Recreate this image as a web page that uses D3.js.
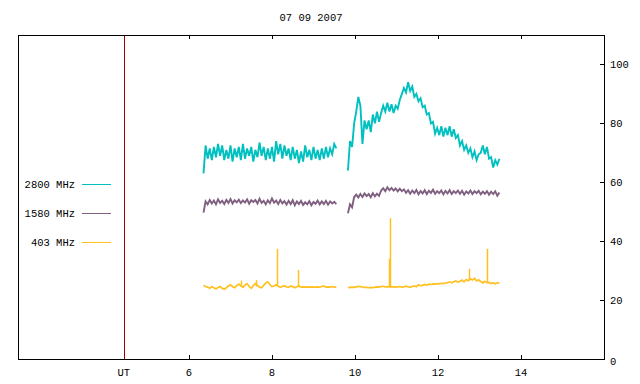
<!DOCTYPE html>
<html><head><meta charset="utf-8">
<script src="https://cdn.jsdelivr.net/npm/d3@7"></script>
<style>body{margin:0;background:#fff}svg{display:block}text{font-family:"Liberation Mono","DejaVu Sans Mono",monospace;font-size:10.5px;fill:#000}</style>
</head><body>
<svg id="c" width="640" height="384"></svg>
<script>
const title = "07 09 2007";
const seriesNames = ["2800 MHz", "1580 MHz", "403 MHz"];
const seriesColors = ["#00c0c0", "#806080", "#ffc020"];
const xTickValues = [6, 8, 10, 12, 14];
const xTickLabels = ["6", "8", "10", "12", "14"];
const utTime = 4.43;
const utLabel = "UT";
const yTickValues = [0, 20, 40, 60, 80, 100];
const step = 0.05;
const seg1Start = 6.35;
const seg2Start = 9.83;

const cyan1 = [63,72.5,68,71.5,67.5,72,68.5,73,69,72.5,
67.5,71,68,72.5,67,71.5,68.5,72,67.5,73,
68,71.5,69,72,67,71,68.5,73.5,69,72,
67.5,71.5,68,72,67,74,69.5,73,68,72.5,
69,71.5,67.5,72,68,71,66.5,70.5,67,72.5,
68.5,71,67.5,72,68,71,67.5,71.5,68,72,
68.5,71.5,69.5,73,71.5];
const cyan2 = [64,74,72,80,84,89,86,73,81,78,
81,77,83,80,84,80.5,83.5,86,84,87,
84,86.5,83.5,86,85,88,90,92,90.5,94,
91,92.5,89,90,87.5,88.5,85.5,86,83,83.5,
80,80.5,76.5,78.5,76,79,75.5,78.5,76,79,
75.5,78,75,76,72.5,74,71,72.5,70,71.5,
68.5,70.5,67.5,69.5,70,72.5,69.5,72,68,68.5,
65,67.5,66,68];
const purple1 = [49.7,53.5,52.5,54,52.8,53.8,52.5,54.2,53,53.7,
52.6,54,53,54.3,52.8,53.9,53.2,54.1,52.9,53.8,
53.1,54.2,52.7,53.9,53.3,54,52.8,54.4,53,53.7,
52.5,53.9,52.9,54.5,53.1,53.8,52.6,54,52.8,53.6,
52.4,53.7,52.6,53.9,52.2,53.5,52.6,53.7,52.3,53.2,
52.5,53.6,52.2,53.3,52.7,53.8,52.5,53.5,52.6,53.7,
52.4,53.5,52.8,53.4,52.6];
const purple2 = [49.5,52.5,51.5,55,
55.8,54.8,56,55,56.2,55.3,56,54.9,56.3,55.2,56.1,55.4,
57.2,58,57,58.3,57.3,58.1,57.2,57.9,56.9,57.8,57,57.6,
56.4,57.3,56.1,57.2,56.3,57.4,55.9,57,56.2,57.3,
56,57.1,56.4,57.5,56.1,57,56.3,57.2,55.9,57.1,
56.2,57.3,56,57,56.3,57.2,56.1,57.1,55.8,56.9,
56.2,57.2,56,57,56.3,57.1,55.9,56.8,56.1,57,
55.8,56.8,56,56.9,55.4,56.5];
const yellow1 = [25,24.6,24.4,24,24.5,24.2,23.8,24.3,24.6,24,
23.7,24.2,24.8,25.2,24.6,24.2,24.9,25.4,24.8,24.3,
25.1,25.6,24.6,24,24.9,25.6,25,24.4,24.2,25,
25.8,26.2,25.2,24.6,24.8,25.2,24.7,24.3,24.6,24.9,
24.5,24.4,24.7,24.6,24.2,24.5,24.8,24.4,24.5,24.4,
24.5,24.4,24.5,24.4,24.4,24.5,24.4,24.6,24.8,24.4,
24.5,24.4,24.6,24.3,24.5];
const yellow2 = [24.2,24.3,24.4,24.3,24.5,24.7,24.6,24.4,24.3,24.3,
24.2,24.3,24.2,24.4,24.5,24.4,24.6,24.7,24.5,24.6,
24.5,24.6,24.5,24.4,24.5,24.6,24.4,24.5,24.7,24.5,
24.4,24.6,24.8,24.5,25.2,24.9,25,25.3,25.1,25.4,
25.3,25.5,25.4,25.6,25.5,25.7,25.6,25.8,25.9,26.2,
25.9,26.2,26.5,26.1,26.4,26.8,26.2,27,26.6,27.2,
26.8,27.4,26.5,26.9,26.3,25.8,26.4,25.9,26,25.6,
25.8,25.5,25.9,25.7];
const spikeTimes = [7.25, 7.61, 8.12, 8.63, 10.82, 10.84, 12.74, 13.18];
const spikePeaks = [26.6, 26.8, 37.4, 30.2, 34, 47.8, 30.6, 37.4];
const spikeBases = [24.6, 24.6, 24.6, 24.4, 24.5, 24.5, 26.6, 26.2];

const svg = d3.select("#c");
const L = 18, R = 604, T = 35, B = 359;
const x = d3.scaleLinear().domain([1.88, 16]).range([L, R]);
const y = d3.scaleLinear().domain([0, 110]).range([B, T]);

const toPts = (start, vals) => vals.map((v, i) => [start + i * step, v]);
const line = d3.line().x(d => x(d[0])).y(d => y(d[1]));

const segs = [[cyan1, cyan2], [purple1, purple2], [yellow1, yellow2]];
[2, 1, 0].forEach(k => {
  segs[k].forEach((vals, j) => {
    svg.append("path")
      .attr("d", line(toPts(j === 0 ? seg1Start : seg2Start, vals)))
      .attr("fill", "none").attr("stroke", seriesColors[k])
      .attr("stroke-width", k === 2 ? 1.7 : 1.9).attr("stroke-linejoin", "miter");
  });
});
svg.append("g").selectAll("line").data(spikeTimes).join("line")
  .attr("x1", d => Math.round(x(d)) + 0.5).attr("x2", d => Math.round(x(d)) + 0.5)
  .attr("y1", (d, i) => y(spikeBases[i])).attr("y2", (d, i) => y(spikePeaks[i]))
  .attr("stroke", seriesColors[2]).attr("stroke-width", 1.5);

// UT line
svg.append("line").attr("x1", Math.round(x(utTime)) + 0.5).attr("x2", Math.round(x(utTime)) + 0.5)
  .attr("y1", T).attr("y2", B).attr("stroke", "#a00000").attr("stroke-width", 1);

// frame
svg.append("rect").attr("x", L + 0.5).attr("y", T + 0.5).attr("width", R - L).attr("height", B - T)
  .attr("fill", "none").attr("stroke", "#000").attr("stroke-width", 1);

// x ticks bottom and top (inward)
const xt = svg.append("g");
xTickValues.forEach((v, i) => {
  const px = Math.round(x(v)) + 0.5;
  xt.append("line").attr("x1", px).attr("x2", px).attr("y1", B).attr("y2", B - 4).attr("stroke", "#000");
  xt.append("line").attr("x1", px).attr("x2", px).attr("y1", T).attr("y2", T + 4).attr("stroke", "#000");
  xt.append("text").attr("x", x(v)).attr("y", 376).attr("text-anchor", "middle").text(xTickLabels[i]);
});
xt.append("text").attr("x", x(utTime)).attr("y", 376).attr("text-anchor", "middle").text(utLabel);

// right y ticks
const yt = svg.append("g");
yTickValues.forEach(v => {
  const py = Math.round(y(v)) + 0.5;
  if (v > 0) yt.append("line").attr("x1", R).attr("x2", R - 4).attr("y1", py).attr("y2", py).attr("stroke", "#000");
  yt.append("text").attr("x", 610).attr("y", y(v) + 4 + (v === 0 ? 2 : 0)).text(v);
});

// title
svg.append("text").attr("x", 311).attr("y", 21).attr("text-anchor", "middle").text(title);

// legend
seriesNames.forEach((n, i) => {
  const ly = 184 + i * 29;
  svg.append("text").attr("x", 75).attr("y", ly + 4).attr("text-anchor", "end").text(n);
  svg.append("line").attr("x1", 82).attr("x2", 111).attr("y1", ly + 0.5).attr("y2", ly + 0.5)
    .attr("stroke", seriesColors[i]).attr("stroke-width", 1);
});
</script>
</body></html>
